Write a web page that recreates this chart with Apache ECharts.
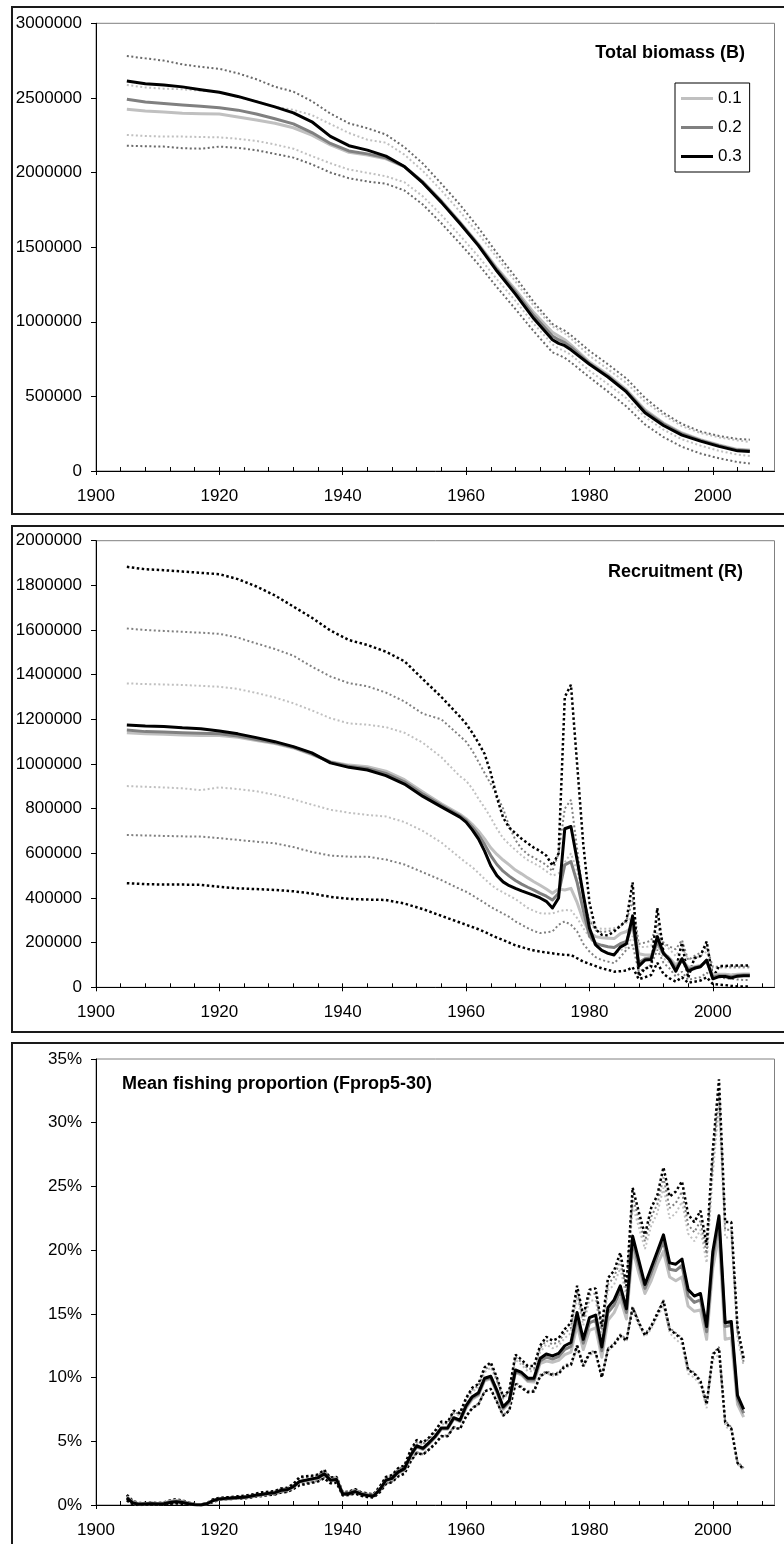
<!DOCTYPE html>
<html>
<head>
<meta charset="utf-8">
<script src="https://cdn.jsdelivr.net/npm/echarts@6/dist/echarts.min.js"></script>
<style>
  html, body { margin: 0; padding: 0; background: #ffffff; }
  #chart { width: 784px; height: 1544px; }
</style>
</head>
<body>
<div id="chart"></div>
<script>
// ---------- axis ticks ----------
const yearLabels = [1900, 1920, 1940, 1960, 1980, 2000];
const yearMinorTicks = [1900, 1904, 1908, 1912, 1916, 1920, 1924, 1928, 1932, 1936, 1940, 1944, 1948,
  1952, 1956, 1960, 1964, 1968, 1972, 1976, 1980, 1984, 1988, 1992, 1996, 2000, 2004, 2008];

// ---------- Total biomass (B), thousand tonnes ----------
const biomassYears = [1905, 1908, 1911, 1914, 1917, 1920, 1923, 1926, 1929, 1932, 1935, 1938, 1941, 1944,
  1947, 1950, 1953, 1956, 1959, 1962, 1965, 1968, 1971, 1974, 1975, 1976, 1977, 1980, 1983, 1986, 1989,
  1992, 1995, 1998, 2001, 2004, 2006];
const biomass01 = [2424, 2413, 2405, 2398, 2394, 2392, 2372, 2352, 2330, 2300, 2250, 2185, 2135, 2118,
  2092, 2040, 1938, 1810, 1668, 1522, 1360, 1215, 1060, 930, 905, 880, 845, 730, 645, 545, 410,
  322, 255, 210, 175, 145, 140];
const biomass02 = [2491, 2472, 2463, 2453, 2444, 2434, 2418, 2392, 2360, 2326, 2268, 2195, 2145, 2125,
  2098, 2040, 1935, 1805, 1663, 1515, 1350, 1200, 1040, 905, 880, 860, 830, 720, 635, 535, 400,
  315, 248, 205, 170, 140, 135];
const biomass03 = [2614, 2595, 2586, 2574, 2555, 2538, 2510, 2475, 2440, 2400, 2340, 2242, 2180, 2150,
  2110, 2040, 1930, 1800, 1658, 1510, 1340, 1185, 1020, 880, 855, 840, 812, 715, 630, 530, 390,
  305, 240, 200, 165, 135, 130];
const biomassHiDark = [2781, 2765, 2750, 2725, 2708, 2695, 2665, 2625, 2575, 2542, 2478, 2395, 2330, 2297,
  2255, 2170, 2060, 1925, 1785, 1630, 1460, 1300, 1130, 985, 960, 940, 910, 805, 715, 620, 490,
  390, 315, 265, 235, 215, 210];
const biomassHiLight = [2587, 2570, 2562, 2558, 2548, 2540, 2505, 2478, 2440, 2420, 2385, 2325, 2265, 2220,
  2200, 2120, 2010, 1880, 1738, 1590, 1430, 1270, 1105, 968, 945, 922, 888, 772, 682, 590, 465,
  375, 300, 255, 225, 205, 195];
const biomassLoLight = [2252, 2245, 2241, 2241, 2238, 2236, 2226, 2212, 2188, 2160, 2110, 2062, 2020, 1998,
  1975, 1935, 1840, 1715, 1578, 1438, 1285, 1140, 985, 848, 822, 802, 778, 672, 582, 487, 362,
  277, 212, 170, 135, 110, 100];
const biomassLoDark = [2180, 2176, 2174, 2163, 2160, 2174, 2165, 2150, 2125, 2100, 2055, 2000, 1962, 1940,
  1925, 1880, 1785, 1660, 1525, 1385, 1232, 1085, 935, 795, 778, 758, 728, 628, 532, 432, 312,
  227, 162, 117, 85, 60, 50];

// ---------- Recruitment (R), thousands ----------
const recruitYears = [1905, 1908, 1911, 1914, 1917, 1920, 1923, 1926, 1929, 1932, 1935, 1938, 1941, 1944,
  1947, 1950, 1953, 1956, 1959,
  1960, 1961, 1962, 1963, 1964, 1965, 1966, 1967, 1968, 1969,
  1970, 1971, 1972, 1973, 1974, 1975, 1976, 1977, 1978, 1979,
  1980, 1981, 1982, 1983, 1984, 1985, 1986, 1987, 1988, 1989,
  1990, 1991, 1992, 1993, 1994, 1995, 1996, 1997, 1998, 1999,
  2000, 2001, 2002, 2003, 2004, 2005, 2006];
const recruit01 = [1140, 1135, 1133, 1130, 1128, 1128, 1120, 1105, 1092, 1072, 1042, 1010, 995, 988,
  968, 930, 875, 822, 775,
  755, 730, 700, 665, 625, 595, 570, 548, 525, 508,
  490, 473, 457, 440, 421, 440, 436, 443, 380, 300,
  245, 227, 222, 220, 218, 240, 250, 272, 150, 145,
  145, 190, 155, 130, 100, 125, 90, 92, 98, 115,
  55, 58, 58, 55, 58, 60, 60];
const recruit02 = [1152, 1145, 1143, 1140, 1138, 1135, 1125, 1110, 1095, 1075, 1045, 1008, 990, 980,
  958, 920, 865, 815, 768,
  748, 718, 683, 640, 590, 550, 520, 498, 478, 462,
  448, 435, 421, 408, 391, 421, 548, 563, 470, 345,
  230, 197, 188, 182, 178, 195, 205, 285, 110, 128,
  132, 205, 150, 125, 85, 125, 80, 88, 95, 118,
  45, 52, 52, 47, 53, 55, 55];
const recruit03 = [1175, 1170, 1168, 1162, 1158, 1148, 1135, 1118, 1100, 1078, 1050, 1005, 985, 973,
  948, 910, 855, 808, 762,
  740, 705, 665, 610, 545, 500, 472, 455, 443, 432,
  422, 412, 400, 385, 355, 400, 710, 720, 570, 415,
  265, 190, 165, 152, 145, 180, 195, 320, 95, 122,
  125, 227, 152, 122, 72, 128, 72, 85, 92, 122,
  38, 48, 48, 42, 50, 52, 52];
const recruitHi03 = [1883, 1872, 1868, 1862, 1856, 1850, 1828, 1795, 1755, 1705, 1655, 1598, 1555, 1533,
  1503, 1460, 1380, 1300, 1212,
  1180, 1140, 1095, 1045, 960, 850, 760, 715, 690, 665,
  645, 625, 610, 590, 545, 600, 1300, 1355, 1000, 640,
  380, 260, 235, 232, 250, 275, 300, 470, 50, 85,
  90, 355, 155, 130, 80, 200, 42, 130, 140, 205,
  40, 95, 95, 98, 98, 98, 98];
const recruitLo03 = [466, 462, 460, 460, 459, 450, 443, 440, 436, 430, 420, 405, 396, 393,
  391, 375, 350, 320, 290,
  280, 270, 260, 248, 235, 222, 212, 200, 188, 180,
  172, 165, 160, 156, 152, 148, 145, 145, 130, 115,
  105, 95, 85, 78, 70, 72, 75, 90, 36, 45,
  55, 110, 60, 40, 25, 45, 20, 25, 30, 45,
  15, 12, 10, 6, 4, 4, 4];
const recruitHi02 = [1607, 1600, 1596, 1592, 1588, 1583, 1566, 1540, 1515, 1485, 1436, 1392, 1362, 1348,
  1320, 1280, 1225, 1200, 1125,
  1100, 1060, 1010, 960, 910, 860, 800, 720, 660, 620,
  595, 580, 565, 548, 520, 600, 800, 839, 620, 400,
  300, 255, 248, 250, 258, 272, 300, 388, 194, 200,
  209, 284, 200, 182, 170, 212, 122, 140, 155, 182,
  92, 92, 92, 92, 92, 92, 92];
const recruitLo02 = [682, 680, 678, 676, 675, 668, 660, 652, 645, 628, 606, 590, 585, 585,
  572, 550, 515, 480, 440,
  428, 412, 395, 378, 360, 345, 330, 315, 295, 280,
  265, 252, 243, 246, 250, 280, 295, 280, 250, 195,
  160, 135, 122, 115, 108, 135, 168, 190, 70, 85,
  100, 168, 110, 84, 48, 70, 33, 40, 45, 65,
  48, 45, 40, 38, 35, 33, 33];
const recruitHi01 = [1361, 1358, 1356, 1354, 1350, 1346, 1336, 1318, 1298, 1272, 1240, 1205, 1182, 1176,
  1165, 1140, 1095, 1030, 945,
  925, 890, 845, 805, 760, 710, 668, 640, 615, 590,
  570, 555, 540, 520, 500, 510, 560, 600, 520, 400,
  300, 265, 262, 262, 265, 275, 290, 320, 180, 180,
  185, 250, 195, 170, 140, 180, 125, 130, 140, 160,
  88, 88, 88, 88, 88, 88, 88];
const recruitLo01 = [901, 898, 895, 891, 883, 895, 888, 878, 862, 842, 818, 795, 782, 772,
  765, 740, 700, 648, 580,
  558, 538, 512, 485, 460, 440, 425, 410, 395, 375,
  355, 342, 332, 330, 331, 340, 346, 345, 310, 265,
  225, 185, 165, 155, 150, 165, 180, 230, 110, 120,
  130, 190, 130, 110, 85, 110, 70, 80, 90, 120,
  62, 60, 60, 58, 58, 58, 58];

// ---------- Mean fishing proportion (Fprop5-30), percent ----------
const fpropYears = [
  1905, 1906, 1907, 1908, 1909, 1910, 1911, 1912, 1913, 1914,
  1915, 1916, 1917, 1918, 1919, 1920, 1921, 1922, 1923, 1924,
  1925, 1926, 1927, 1928, 1929, 1930, 1931, 1932, 1933, 1934,
  1935, 1936, 1937, 1938, 1939, 1940, 1941, 1942, 1943, 1944,
  1945, 1946, 1947, 1948, 1949, 1950, 1951, 1952, 1953, 1954,
  1955, 1956, 1957, 1958, 1959, 1960, 1961, 1962, 1963, 1964,
  1965, 1966, 1967, 1968, 1969, 1970, 1971, 1972, 1973, 1974,
  1975, 1976, 1977, 1978, 1979, 1980, 1981, 1982, 1983, 1984,
  1985, 1986, 1987, 1988, 1989, 1990, 1991, 1992, 1993, 1994,
  1995, 1996, 1997, 1998, 1999, 2000, 2001, 2002, 2003, 2004,
  2005];
const fprop01 = [
  0.65, 0.22, 0.1, 0.12, 0.15, 0.12, 0.15, 0.3, 0.35, 0.28,
  0.15, 0.05, 0.02, 0.12, 0.33, 0.45, 0.48, 0.5, 0.55, 0.58,
  0.64, 0.72, 0.8, 0.88, 0.93, 1.1, 1.15, 1.4, 1.8, 1.9,
  2.0, 2.1, 2.45, 2.0, 2.05, 0.95, 0.95, 1.1, 0.9, 0.8,
  0.75, 1.22, 1.9, 2.05, 2.5, 2.75, 3.8, 4.55, 4.35, 4.8,
  5.3, 5.95, 5.95, 6.75, 6.55, 7.6, 8.3, 8.6, 9.75, 9.9,
  8.8, 7.5, 8.0, 10.4, 10.2, 9.7, 9.65, 11.1, 11.3, 11.2,
  11.35, 11.8, 12.0, 14.1, 12.2, 13.7, 13.9, 11.6, 14.5, 15.1,
  16.2, 14.6, 20.1, 18.2, 16.6, 17.6, 18.9, 19.9, 17.9, 17.6,
  17.9, 15.6, 15.2, 15.3, 13.0, 18.6, 21.2, 13.0, 13.1, 7.9,
  6.9];
const fprop02 = [
  0.6, 0.2, 0.08, 0.1, 0.12, 0.1, 0.12, 0.25, 0.3, 0.25,
  0.12, 0.03, 0.0, 0.1, 0.35, 0.47, 0.5, 0.53, 0.57, 0.6,
  0.66, 0.75, 0.82, 0.9, 0.95, 1.12, 1.18, 1.42, 1.82, 1.92,
  2.02, 2.12, 2.42, 1.95, 2.0, 0.9, 0.92, 1.08, 0.88, 0.78,
  0.72, 1.2, 1.92, 2.08, 2.55, 2.8, 3.85, 4.6, 4.4, 4.85,
  5.35, 6.0, 6.0, 6.8, 6.6, 7.7, 8.4, 8.7, 9.85, 10.0,
  8.9, 7.6, 8.1, 10.5, 10.3, 9.8, 9.8, 11.3, 11.6, 11.45,
  11.65, 12.2, 12.45, 14.7, 12.7, 14.3, 14.5, 12.1, 15.1, 15.7,
  16.8, 15.1, 20.7, 18.8, 17.0, 18.2, 19.5, 20.7, 18.5, 18.4,
  18.8, 16.4, 15.9, 16.1, 13.6, 19.4, 22.2, 14.0, 14.1, 8.3,
  7.2];
const fprop03 = [
  0.55, 0.15, 0.05, 0.08, 0.1, 0.08, 0.1, 0.2, 0.25, 0.2,
  0.1, 0.02, 0.0, 0.1, 0.35, 0.48, 0.52, 0.55, 0.58, 0.6,
  0.68, 0.78, 0.85, 0.92, 0.97, 1.15, 1.2, 1.45, 1.85, 1.95,
  2.05, 2.15, 2.45, 1.95, 2.0, 0.85, 0.9, 1.05, 0.85, 0.75,
  0.7, 1.2, 1.95, 2.1, 2.6, 2.85, 3.9, 4.65, 4.45, 4.9,
  5.4, 6.05, 6.05, 6.85, 6.65, 7.8, 8.5, 8.8, 9.95, 10.1,
  9.0, 7.7, 8.2, 10.6, 10.4, 9.95, 9.95, 11.5, 11.85, 11.7,
  11.9, 12.5, 12.75, 15.1, 13.0, 14.7, 14.9, 12.4, 15.5, 16.1,
  17.2, 15.4, 21.1, 19.2, 17.3, 18.6, 19.9, 21.2, 19.0, 18.9,
  19.3, 16.9, 16.4, 16.6, 14.0, 19.9, 22.7, 14.3, 14.4, 8.6,
  7.5];
const fpropHi03 = [
  0.8, 0.3, 0.15, 0.15, 0.2, 0.15, 0.2, 0.35, 0.45, 0.35,
  0.2, 0.08, 0.05, 0.15, 0.45, 0.55, 0.6, 0.62, 0.68, 0.72,
  0.8, 0.9, 1.0, 1.05, 1.1, 1.3, 1.35, 1.65, 2.2, 2.25,
  2.3, 2.4, 2.75, 2.15, 2.2, 1.0, 1.05, 1.25, 1.0, 0.9,
  0.85, 1.45, 2.2, 2.35, 2.9, 3.1, 4.3, 5.1, 4.9, 5.3,
  5.85, 6.55, 6.5, 7.4, 7.2, 8.4, 9.2, 9.5, 10.8, 11.2,
  10.0, 8.5, 9.0, 11.8, 11.4, 10.9, 10.9, 12.5, 13.2, 12.9,
  13.1, 13.8, 14.3, 17.2, 14.8, 16.9, 17.0, 14.0, 17.8, 18.4,
  19.8, 17.2, 24.9, 23.0, 21.2, 23.3, 24.3, 26.5, 24.2, 24.6,
  25.4, 22.8, 22.2, 23.1, 20.4, 27.9, 33.4, 22.2, 22.2, 14.0,
  11.5];
const fpropLo03 = [
  0.35, 0.05, 0.0, 0.02, 0.03, 0.02, 0.03, 0.1, 0.12, 0.1,
  0.05, 0.0, 0.0, 0.05, 0.25, 0.4, 0.45, 0.47, 0.5, 0.52,
  0.58, 0.66, 0.72, 0.78, 0.82, 0.98, 1.02, 1.25, 1.55, 1.65,
  1.75, 1.85, 2.1, 1.7, 1.75, 0.75, 0.78, 0.9, 0.72, 0.62,
  0.58, 1.0, 1.65, 1.8, 2.25, 2.45, 3.4, 4.1, 3.95, 4.35,
  4.8, 5.4, 5.4, 6.1, 5.95, 6.95, 7.6, 7.9, 8.9, 9.1,
  8.1, 7.0, 7.4, 9.5, 9.2, 8.85, 8.9, 10.1, 10.4, 10.2,
  10.3, 10.9, 11.0, 12.5, 10.9, 11.9, 12.0, 10.0, 12.2, 12.6,
  13.3, 12.9, 15.5, 14.3, 13.3, 14.0, 15.0, 16.0, 13.8, 13.4,
  13.0, 10.6, 10.3, 9.7, 7.9, 11.8, 12.3, 6.5, 6.0, 3.3,
  2.8];
const fpropHi02 = [
  0.75, 0.28, 0.14, 0.15, 0.18, 0.15, 0.18, 0.33, 0.42, 0.33,
  0.18, 0.07, 0.04, 0.14, 0.42, 0.53, 0.58, 0.6, 0.65, 0.7,
  0.77, 0.87, 0.96, 1.02, 1.07, 1.26, 1.31, 1.6, 2.12, 2.2,
  2.25, 2.35, 2.7, 2.12, 2.17, 1.0, 1.03, 1.22, 0.98, 0.88,
  0.83, 1.4, 2.15, 2.3, 2.82, 3.05, 4.2, 5.0, 4.8, 5.2,
  5.75, 6.45, 6.4, 7.3, 7.1, 8.3, 9.05, 9.35, 10.6, 11.0,
  9.85, 8.4, 8.9, 11.6, 11.2, 10.7, 10.7, 12.3, 12.9, 12.6,
  12.8, 13.5, 13.9, 16.8, 14.5, 16.5, 16.6, 13.7, 17.3, 17.9,
  19.2, 16.8, 24.2, 22.4, 20.7, 22.6, 23.6, 25.7, 23.3, 23.7,
  24.6, 22.0, 21.4, 22.3, 19.7, 27.0, 32.4, 21.6, 21.6, 13.6,
  11.2];
const fpropLo02 = [
  0.38, 0.07, 0.01, 0.03, 0.04, 0.03, 0.04, 0.12, 0.15, 0.12,
  0.06, 0.0, 0.0, 0.06, 0.27, 0.41, 0.46, 0.48, 0.51, 0.53,
  0.59, 0.67, 0.73, 0.8, 0.84, 1.0, 1.04, 1.27, 1.6, 1.7,
  1.8, 1.9, 2.15, 1.74, 1.79, 0.77, 0.8, 0.93, 0.75, 0.65,
  0.6, 1.03, 1.68, 1.83, 2.3, 2.5, 3.45, 4.15, 4.0, 4.4,
  4.85, 5.45, 5.45, 6.15, 6.0, 7.0, 7.65, 7.95, 8.95, 9.15,
  8.15, 7.05, 7.45, 9.6, 9.3, 8.95, 9.0, 10.2, 10.5, 10.3,
  10.4, 11.0, 11.1, 12.6, 11.0, 12.0, 12.1, 10.1, 12.3, 12.7,
  13.4, 13.0, 15.6, 14.4, 13.4, 14.1, 15.1, 16.1, 13.9, 13.5,
  13.1, 10.7, 10.4, 9.8, 8.0, 11.9, 12.4, 6.6, 6.1, 3.4,
  2.9];
const fpropHi01 = [
  0.7, 0.26, 0.13, 0.14, 0.17, 0.14, 0.17, 0.32, 0.4, 0.32,
  0.17, 0.07, 0.04, 0.14, 0.4, 0.51, 0.56, 0.58, 0.63, 0.67,
  0.74, 0.84, 0.92, 0.99, 1.04, 1.22, 1.27, 1.55, 2.05, 2.14,
  2.2, 2.3, 2.7, 2.15, 2.2, 1.02, 1.03, 1.2, 0.97, 0.87,
  0.82, 1.38, 2.1, 2.25, 2.75, 2.98, 4.1, 4.9, 4.7, 5.1,
  5.65, 6.35, 6.3, 7.2, 7.0, 8.15, 8.9, 9.2, 10.4, 10.8,
  9.7, 8.3, 8.8, 11.4, 11.0, 10.5, 10.5, 12.0, 12.6, 12.3,
  12.5, 13.1, 13.5, 16.3, 14.1, 16.0, 16.1, 13.3, 16.8, 17.3,
  18.6, 16.3, 23.5, 21.8, 20.1, 21.9, 22.9, 24.9, 22.5, 22.9,
  23.8, 21.3, 20.7, 21.6, 19.0, 26.0, 31.3, 21.0, 21.0, 13.1,
  10.9];
const fpropLo01 = [
  0.4, 0.08, 0.02, 0.04, 0.05, 0.04, 0.05, 0.14, 0.17, 0.14,
  0.07, 0.01, 0.0, 0.07, 0.26, 0.4, 0.44, 0.46, 0.5, 0.52,
  0.57, 0.65, 0.72, 0.78, 0.83, 0.99, 1.03, 1.26, 1.62, 1.72,
  1.8, 1.9, 2.2, 1.78, 1.83, 0.8, 0.82, 0.95, 0.77, 0.67,
  0.62, 1.05, 1.67, 1.82, 2.28, 2.48, 3.42, 4.1, 3.95, 4.35,
  4.8, 5.4, 5.4, 6.1, 5.95, 6.95, 7.6, 7.9, 8.9, 9.1,
  8.1, 7.0, 7.4, 9.55, 9.25, 8.9, 8.9, 10.1, 10.35, 10.15,
  10.25, 10.8, 10.9, 12.3, 10.8, 11.8, 11.9, 10.0, 12.1, 12.5,
  13.2, 12.8, 15.3, 14.1, 13.2, 13.8, 14.8, 15.6, 13.5, 13.0,
  12.6, 10.3, 10.0, 9.4, 7.6, 11.4, 11.8, 6.2, 5.8, 3.2,
  2.7];

// ---------- styling ----------
const FONT = '"Liberation Sans", Arial, sans-serif';
const LIGHT = '#c0c0c0';
const MID = '#808080';
const DARK = '#000000';
const BOUND_DARK = '#6a6a6a';

const panels = [
  { top: 23.3, height: 447.7, max: 3000000, interval: 500000, fmt: v => String(v) },
  { top: 540.7, height: 446.6, max: 2000000, interval: 200000, fmt: v => String(v) },
  { top: 1059, height: 446, max: 35, interval: 5, fmt: v => v + '%' }
];

function pairs(xs, ys, scale) {
  return xs.map((x, i) => [x, ys[i] * scale]);
}

function solid(name, color, gi, data) {
  return {
    type: 'line', name, xAxisIndex: gi * 2, yAxisIndex: gi, data,
    symbol: 'none', silent: true, z: 4,
    lineStyle: { color, width: 3, join: 'round' },
    itemStyle: { color }
  };
}

function dotted(name, color, gi, data, width, dash) {
  return {
    type: 'line', name, xAxisIndex: gi * 2, yAxisIndex: gi, data,
    symbol: 'none', silent: true, z: 3,
    lineStyle: { color, width, type: dash }
  };
}

const grid = panels.map(p => ({
  left: 96, width: 678.5, top: p.top, height: p.height,
  show: true, borderColor: '#808080', borderWidth: 1, backgroundColor: 'rgba(0,0,0,0)'
}));

const xAxis = [];
panels.forEach((p, gi) => {
  // labelled axis with outward major ticks
  xAxis.push({
    type: 'value', gridIndex: gi, position: 'bottom', min: 1900, max: 2010, interval: 20,
    axisLine: { show: true, onZero: false, lineStyle: { color: '#000', width: 1 } },
    axisTick: { show: true, inside: false, length: 4, customValues: yearLabels, lineStyle: { color: '#000' } },
    axisLabel: { customValues: yearLabels, formatter: v => String(v), fontSize: 17, color: '#000',
      fontFamily: FONT, margin: 17 },
    splitLine: { show: false }
  });
  // inward minor ticks every 4 years
  xAxis.push({
    type: 'value', gridIndex: gi, position: 'bottom', min: 1900, max: 2010, interval: 4,
    axisLine: { show: false, onZero: false },
    axisTick: { show: true, inside: true, length: 4, customValues: yearMinorTicks, lineStyle: { color: '#000' } },
    axisLabel: { show: false },
    splitLine: { show: false }
  });
});

const yAxis = panels.map((p, gi) => ({
  type: 'value', gridIndex: gi, min: 0, max: p.max, interval: p.interval,
  axisLine: { show: true, lineStyle: { color: '#000', width: 1 } },
  axisTick: { show: true, inside: false, length: 5, lineStyle: { color: '#000' } },
  axisLabel: { formatter: p.fmt, fontSize: 17, color: '#000', fontFamily: FONT, margin: 14 },
  splitLine: { show: false }
}));

const K = 1000;
const series = [
  // biomass: bounds then estimates
  dotted('B lower dark', BOUND_DARK, 0, pairs(biomassYears, biomassLoDark, K), 2, [2, 2.5]),
  dotted('B upper dark', BOUND_DARK, 0, pairs(biomassYears, biomassHiDark, K), 2, [2, 2.5]),
  dotted('B lower light', LIGHT, 0, pairs(biomassYears, biomassLoLight, K), 2, [2, 2.5]),
  dotted('B upper light', LIGHT, 0, pairs(biomassYears, biomassHiLight, K), 2, [2, 2.5]),
  solid('0.1', LIGHT, 0, pairs(biomassYears, biomass01, K)),
  solid('0.2', MID, 0, pairs(biomassYears, biomass02, K)),
  solid('0.3', DARK, 0, pairs(biomassYears, biomass03, K)),

  // recruitment
  dotted('R upper 0.1', LIGHT, 1, pairs(recruitYears, recruitHi01, K), 2, [2, 2.5]),
  dotted('R lower 0.1', LIGHT, 1, pairs(recruitYears, recruitLo01, K), 2, [2, 2.5]),
  dotted('R upper 0.2', MID, 1, pairs(recruitYears, recruitHi02, K), 2, [2, 2.5]),
  dotted('R lower 0.2', MID, 1, pairs(recruitYears, recruitLo02, K), 2, [2, 2.5]),
  dotted('R upper 0.3', DARK, 1, pairs(recruitYears, recruitHi03, K), 2.5, [2.5, 2.5]),
  dotted('R lower 0.3', DARK, 1, pairs(recruitYears, recruitLo03, K), 2.5, [2.5, 2.5]),
  solid('0.1', LIGHT, 1, pairs(recruitYears, recruit01, K)),
  solid('0.2', MID, 1, pairs(recruitYears, recruit02, K)),
  solid('0.3', DARK, 1, pairs(recruitYears, recruit03, K)),

  // fishing proportion
  dotted('F upper 0.1', LIGHT, 2, pairs(fpropYears, fpropHi01, 1), 2, [2, 2.5]),
  dotted('F lower 0.1', LIGHT, 2, pairs(fpropYears, fpropLo01, 1), 2, [2, 2.5]),
  dotted('F upper 0.2', MID, 2, pairs(fpropYears, fpropHi02, 1), 2, [2, 2.5]),
  dotted('F lower 0.2', MID, 2, pairs(fpropYears, fpropLo02, 1), 2, [2, 2.5]),
  dotted('F upper 0.3', DARK, 2, pairs(fpropYears, fpropHi03, 1), 2.5, [2.5, 2.5]),
  dotted('F lower 0.3', DARK, 2, pairs(fpropYears, fpropLo03, 1), 2.5, [2.5, 2.5]),
  solid('0.1', LIGHT, 2, pairs(fpropYears, fprop01, 1)),
  solid('0.2', MID, 2, pairs(fpropYears, fprop02, 1)),
  solid('0.3', DARK, 2, pairs(fpropYears, fprop03, 1))
];

function frame(y, h) {
  return {
    type: 'rect', silent: true, z: 10,
    shape: { x: 12, y, width: 790, height: h },
    style: { fill: 'rgba(0,0,0,0)', stroke: '#1a1a1a', lineWidth: 2 }
  };
}

function heading(text, x, y, align) {
  return {
    type: 'text', x, y, silent: true, z: 10,
    style: {
      text, font: 'bold 18px ' + FONT, fill: '#000',
      align, textAlign: align, verticalAlign: 'middle', textVerticalAlign: 'middle'
    }
  };
}

const chart = echarts.init(document.getElementById('chart'), null, { renderer: 'canvas' });
chart.setOption({
  animation: false,
  backgroundColor: '#ffffff',
  textStyle: { fontFamily: FONT },
  grid, xAxis, yAxis, series,
  legend: {
    data: ['0.1', '0.2', '0.3'],
    orient: 'vertical', left: 675, top: 83,
    icon: 'rect',
    padding: [7, 8, 7, 6], itemGap: 12, itemWidth: 32, itemHeight: 3,
    borderColor: '#000', borderWidth: 1, backgroundColor: '#fff',
    selectedMode: false,
    textStyle: { fontSize: 17, color: '#000', fontFamily: FONT }
  },
  graphic: [
    frame(7, 507),
    frame(526, 506),
    frame(1043, 520),
    heading('Total biomass (B)', 745, 53, 'right'),
    heading('Recruitment (R)', 743, 572, 'right'),
    heading('Mean fishing proportion (Fprop5-30)', 122, 1084, 'left')
  ]
});
</script>
</body>
</html>
